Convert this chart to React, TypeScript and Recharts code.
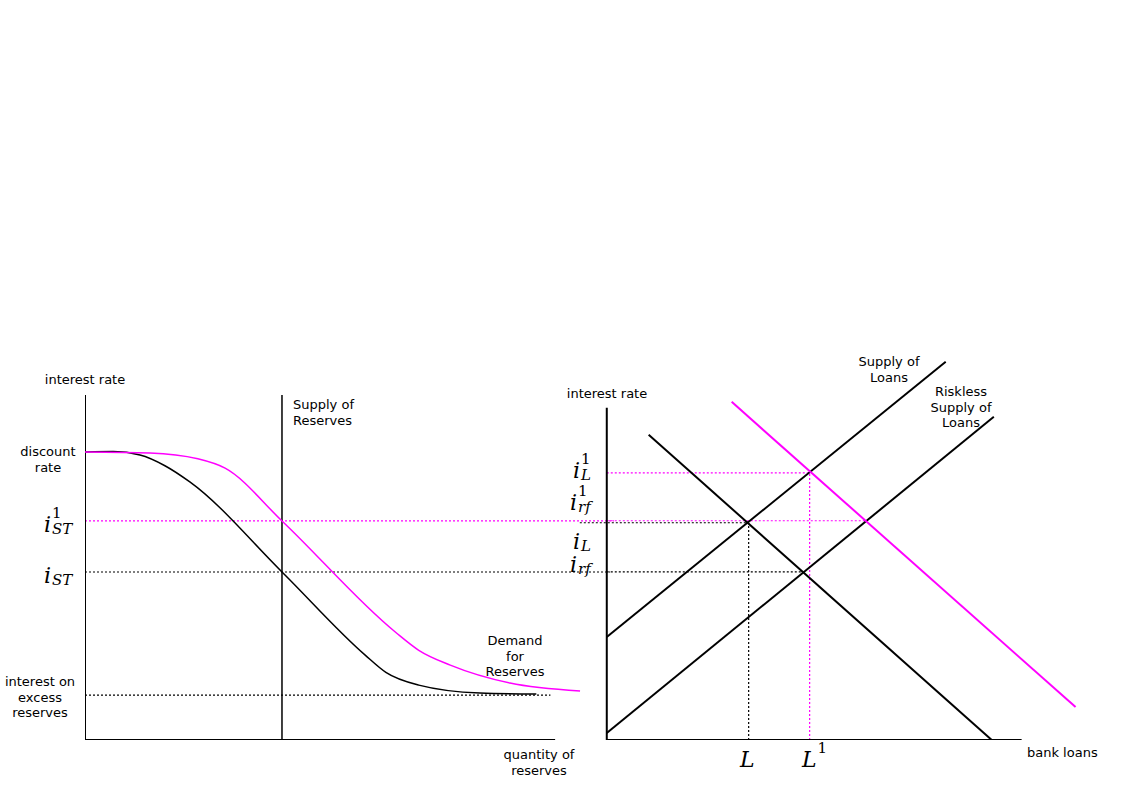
import React from 'react'
import { ComposedChart, Line, XAxis, YAxis } from 'recharts'

type P = { x: number; y: number }

// left panel: reserves market (x 0..100, y 0..100)
const leftAxisY: P[] = [{ x: 0, y: 0 }, { x: 0, y: 100 }]
const leftAxisX: P[] = [{ x: 0, y: 0 }, { x: 100, y: 0 }]
const supplyReserves: P[] = [{ x: 41.9, y: 0 }, { x: 41.9, y: 100 }]
const demandReserves: P[] = [
  { x: 0, y: 83.5 }, { x: 6, y: 83.6 }, { x: 11.7, y: 82.6 }, { x: 17, y: 79.5 }, { x: 22.3, y: 74.8 },
  { x: 41.9, y: 48.7 }, { x: 59.6, y: 24.6 }, { x: 64, y: 19.6 }, { x: 71, y: 15.9 }, { x: 84, y: 13.6 }, { x: 96, y: 13.3 },
]
const demandReserves1: P[] = [
  { x: 0, y: 83.5 }, { x: 13.8, y: 83.2 }, { x: 24, y: 81.5 }, { x: 29.8, y: 78.8 },
  { x: 41.9, y: 63.5 }, { x: 66, y: 31.3 }, { x: 71, y: 26 }, { x: 77.7, y: 21.7 }, { x: 90.4, y: 16.5 }, { x: 105.3, y: 14.2 },
]
const iST1Line: P[] = [{ x: 0, y: 63.5 }, { x: 112.5, y: 63.5 }]
const iSTLine: P[] = [{ x: 0, y: 48.7 }, { x: 111.7, y: 48.7 }]
const ioerLine: P[] = [{ x: 0, y: 13 }, { x: 99, y: 13 }]

// right panel: loan market (x 0..100, y 0..100)
const rightAxisY: P[] = [{ x: 0, y: 0 }, { x: 0, y: 100 }]
const rightAxisX: P[] = [{ x: 0, y: 0 }, { x: 100, y: 0 }]
const demandLoans: P[] = [{ x: 10.1, y: 91.9 }, { x: 92.8, y: 0 }]
const demandLoans1: P[] = [{ x: 30.1, y: 101.8 }, { x: 113, y: 9.9 }]
const supplyLoans: P[] = [{ x: 0, y: 31 }, { x: 81.7, y: 113.9 }]
const risklessSupply: P[] = [{ x: 0, y: 2.1 }, { x: 93.3, y: 97.3 }]
const iL1Line: P[] = [{ x: 0, y: 80.4 }, { x: 49.4, y: 80.4 }]
const irf1Line: P[] = [{ x: 0, y: 66 }, { x: 62.4, y: 66 }]
const iLLine: P[] = [{ x: -6.5, y: 65.4 }, { x: 34.2, y: 65.4 }]
const irfLine: P[] = [{ x: 0, y: 50.6 }, { x: 47.2, y: 50.6 }]
const lLine: P[] = [{ x: 34.2, y: 0 }, { x: 34.2, y: 65.4 }]
const l1Line: P[] = [{ x: 48.9, y: 0 }, { x: 48.9, y: 80.4 }]

const MAG = '#ff00ff'
const sans = 'DejaVu Sans, sans-serif'

function seg(key: string, data: P[], color: string, width: number, dash?: string, type: any = 'linear') {
  return (
    <Line key={key} data={data} dataKey="y" type={type} stroke={color} strokeWidth={width}
      strokeDasharray={dash} dot={false} activeDot={false} isAnimationActive={false} />
  )
}

function Txt({ x, y, lines, align = 'center' }: { x: number; y: number; lines: string[]; align?: any }) {
  return (
    <div style={{ position: 'absolute', left: x, top: y, fontFamily: sans, fontSize: 13, lineHeight: '15.5px', textAlign: align, whiteSpace: 'nowrap', transform: align === 'center' ? 'translateX(-50%)' : align === 'right' ? 'translateX(-100%)' : undefined }}>
      {lines.map((l) => <div key={l}>{l}</div>)}
    </div>
  )
}

function Mi({ x, y, base, sup, sub }: { x: number; y: number; base: string; sup?: string; sub?: string }) {
  return (
    <div style={{ position: 'absolute', left: x, top: y, fontFamily: 'DejaVu Serif, serif', fontStyle: 'italic', fontSize: 22, lineHeight: '22px', whiteSpace: 'nowrap' }}>
      <span>{base}</span>
      <span style={{ display: 'inline-block', position: 'relative', width: 30, height: 22 }}>
        {sup && <span style={{ position: 'absolute', left: 1, top: -8, fontSize: 15, fontStyle: 'normal' }}>{sup}</span>}
        {sub && <span style={{ position: 'absolute', left: 1, top: 8, fontSize: 15 }}>{sub}</span>}
      </span>
    </div>
  )
}

export default function App() {
  return (
    <div style={{ position: 'fixed', left: 0, top: 0, width: 1123, height: 794, background: '#fff' }}>
      <div style={{ position: 'absolute', left: 0, top: 0 }}>
        <ComposedChart width={1123} height={794} margin={{ left: 85, right: 503, top: 395, bottom: 54 }}>
          <XAxis type="number" dataKey="x" domain={[0, 113.8]} hide allowDataOverflow />
          <YAxis type="number" domain={[0, 100]} hide allowDataOverflow />
          {seg('iST1', iST1Line, MAG, 1.2, '2 2')}
          {seg('iST', iSTLine, '#000', 1.2, '2 2')}
          {seg('ioer', ioerLine, '#000', 1.2, '2 2')}
          {seg('ay', leftAxisY, '#000', 2)}
          {seg('ax', leftAxisX, '#000', 2)}
          {seg('sr', supplyReserves, '#000', 1.5)}
          {seg('dr', demandReserves, '#000', 1.5, undefined, 'monotone')}
          {seg('dr1', demandReserves1, MAG, 1.5, undefined, 'monotone')}
        </ComposedChart>
      </div>
      <div style={{ position: 'absolute', left: 0, top: 0 }}>
        <ComposedChart width={1123} height={794} margin={{ left: 557, right: 35, top: 358, bottom: 54 }}>
          <XAxis type="number" dataKey="x" domain={[-12, 116]} hide allowDataOverflow />
          <YAxis type="number" domain={[0, 115]} hide allowDataOverflow />
          {seg('iL1', iL1Line, MAG, 1.2, '2 2')}
          {seg('irf1', irf1Line, MAG, 1.2, '2 2')}
          {seg('iL', iLLine, '#000', 1.2, '2 2')}
          {seg('irf', irfLine, '#000', 1.2, '2 2')}
          {seg('L', lLine, '#000', 1.2, '2 2')}
          {seg('L1', l1Line, MAG, 1.2, '2 2')}
          {seg('ay', rightAxisY, '#000', 2)}
          {seg('ax', rightAxisX, '#000', 2)}
          {seg('dl', demandLoans, '#000', 2)}
          {seg('sl', supplyLoans, '#000', 2)}
          {seg('rs', risklessSupply, '#000', 2)}
          {seg('dl1', demandLoans1, MAG, 2)}
        </ComposedChart>
      </div>
      <Txt x={85} y={372} lines={['interest rate']} />
      <Txt x={48} y={444} lines={['discount', 'rate']} />
      <Mi x={44} y={510} base="i" sup="1" sub="ST" />
      <Mi x={44} y={561} base="i" sub="ST" />
      <Txt x={40} y={674} lines={['interest on', 'excess', 'reserves']} />
      <Txt x={293} y={397} lines={['Supply of', 'Reserves']} align="left" />
      <Txt x={515} y={633} lines={['Demand', 'for', 'Reserves']} />
      <Txt x={539} y={747} lines={['quantity of', 'reserves']} />
      <Txt x={607} y={386} lines={['interest rate']} />
      <Txt x={889} y={354} lines={['Supply of', 'Loans']} />
      <Txt x={961} y={384} lines={['Riskless', 'Supply of', 'Loans']} />
      <Txt x={1027} y={745} lines={['bank loans']} align="left" />
      <Mi x={573} y={456} base="i" sup="1" sub="L" />
      <Mi x={570} y={488} base="i" sup="1" sub="rf" />
      <Mi x={573} y={527} base="i" sub="L" />
      <Mi x={570} y={550} base="i" sub="rf" />
      <Mi x={740} y={745} base="L" />
      <Mi x={802} y={745} base="L" sup="1" />
    </div>
  )
}
